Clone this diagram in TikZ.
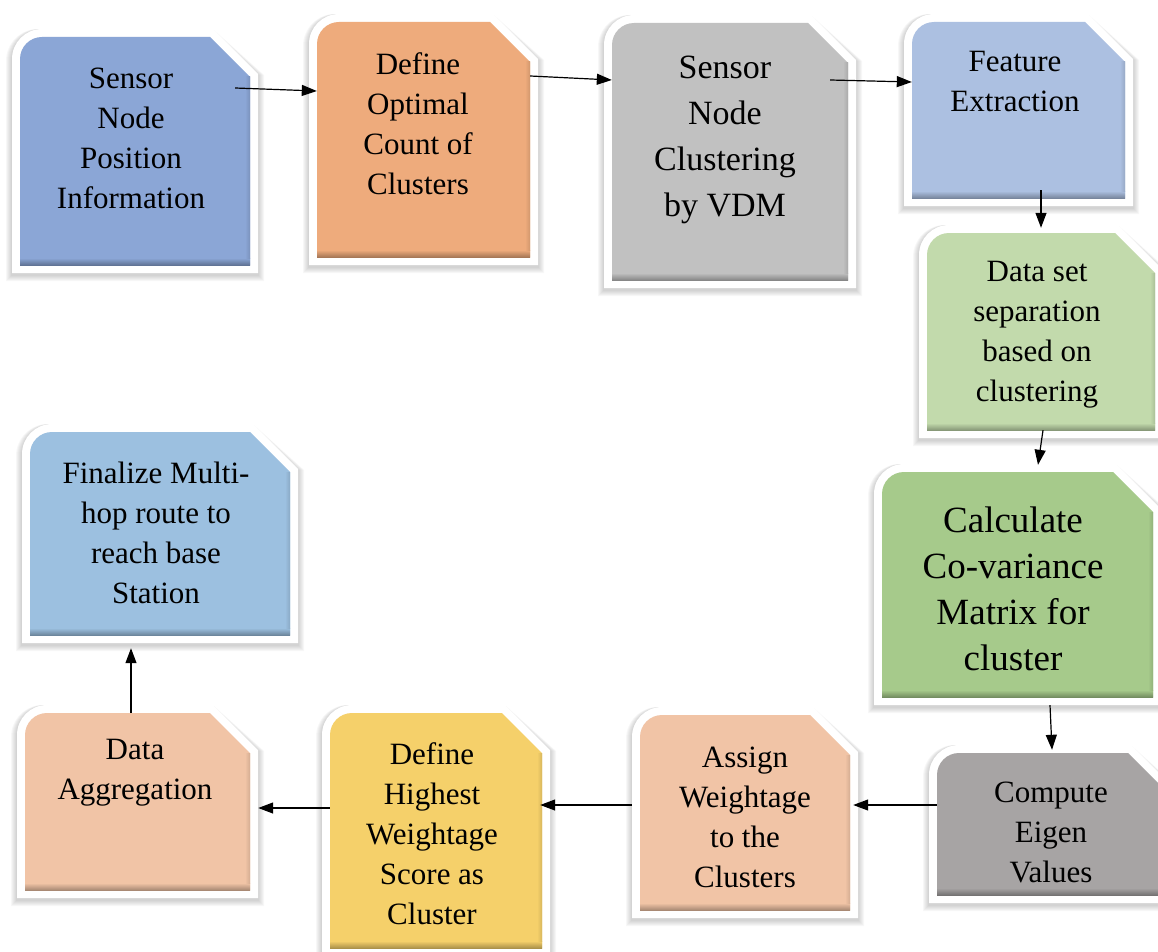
\documentclass[tikz,border=0pt]{standalone}
\usepackage{fontspec}
\setmainfont{Liberation Serif}
\usetikzlibrary{arrows.meta,fit}

% fill colours of the steps
\definecolor{posblue}{RGB}{139,166,214}
\definecolor{countorange}{RGB}{238,171,124}
\definecolor{vdmgrey}{RGB}{193,193,193}
\definecolor{featblue}{RGB}{172,192,225}
\definecolor{sepgreen}{RGB}{194,218,172}
\definecolor{covgreen}{RGB}{166,202,139}
\definecolor{eigengrey}{RGB}{167,164,164}
\definecolor{weightpeach}{RGB}{241,196,166}
\definecolor{scoreyellow}{RGB}{245,208,106}
\definecolor{routeblue}{RGB}{156,192,224}

\tikzset{
    steptext/.style={align=center, inner sep=0pt, font=\fontsize{31}{40}\selectfont},
    bigtext/.style={steptext, font=\fontsize{34}{46}\selectfont},
    hugetext/.style={steptext, font=\fontsize{37}{46}\selectfont},
    flow/.style={line width=1.2pt, -{Triangle[length=15pt,width=11pt]}}
}

% one step: name, colour, left, top, right, bottom (in pixels, y downwards)
\newcommand{\flowbox}[6]{%
    % soft shadow round the white rim
    \foreach \s in {1,...,6}
        \fill[black, opacity=0.03]
            (#3-8-\s,#6+10+\s) -- (#3-8-\s,#4+24) arc (180:270:32)
            -- (#5-36,#4-8-\s/2+4) -- (#5+8+\s,#4+38)
            -- (#5+8+\s,#6+10+\s) -- cycle;
    % white rim
    \fill[white] (#3-8,#6+8) -- (#3-8,#4+22) arc (180:270:30)
        -- (#5-37,#4-8) -- (#5+8,#4+37) -- (#5+8,#6+8) -- cycle;
    % coloured face
    \fill[#2] (#3,#6) -- (#3,#4+22) arc (180:270:22)
        -- (#5-40,#4) -- (#5,#4+40) -- (#5,#6) -- cycle;
    % bevel at bottom and right
    \shade[top color=#2, bottom color=#2!70!black] (#3,#6-7) rectangle (#5,#6);
    \shade[left color=#2, right color=#2!88!black] (#5-5,#4+40) rectangle (#5,#6-7);
    \node[fit={(#3,#4) (#5,#6)}, inner sep=0pt] (#1) {};
}

\begin{document}
\begin{tikzpicture}[x=1pt, y=-1pt]

    % page size of the reference
    \useasboundingbox (0,0) rectangle (1158,952);

    % the eleven steps
    \flowbox{pos}{posblue}{20}{37}{250}{265}
    \flowbox{count}{countorange}{317}{22}{530}{257}
    \flowbox{vdm}{vdmgrey}{612}{23}{848}{280}
    \flowbox{feat}{featblue}{912}{22}{1125}{198}
    \flowbox{sep}{sepgreen}{927}{233}{1155}{430}
    \flowbox{cov}{covgreen}{882}{472}{1153}{697}
    \flowbox{eigen}{eigengrey}{937}{753}{1168}{895}
    \flowbox{weight}{weightpeach}{640}{715}{850}{910}
    \flowbox{score}{scoreyellow}{330}{713}{542}{948}
    \flowbox{aggr}{weightpeach}{25}{713}{250}{890}
    \flowbox{route}{routeblue}{30}{432}{290}{635}

    % texts of the steps
    \node[steptext] (posT) at (131,138) {Sensor\\Node\\Position\\Information};
    \node[steptext] (countT) at (418,124) {Define\\Optimal\\Count of\\Clusters};
    \node[bigtext] (vdmT) at (725,140) {Sensor\\Node\\Clustering\\by VDM};
    \node[steptext] (featT) at (1015,82) {Feature\\Extraction};
    \node[steptext] (sepT) at (1037,335) {Data set\\separation\\based on\\clustering};
    \node[hugetext] (covT) at (1013,589) {Calculate\\Co-variance\\Matrix for\\cluster};
    \node[steptext] (eigenT) at (1051,832) {Compute\\Eigen\\Values};
    \node[steptext] (weightT) at (745,817) {Assign\\Weightage\\to the\\Clusters};
    \node[steptext] (scoreT) at (432,834) {Define\\Highest\\Weightage\\Score as\\Cluster};
    \node[steptext] (aggrT) at (135,773) {Data\\Aggregation};
    \node[steptext] (routeT) at (156,533) {Finalize Multi-\\hop route to\\reach base\\Station};

    % top row, left to right
    \draw[flow] ([xshift=-15pt]pos.east |- 0,88) -- (count.west |- 0,91);
    \draw[flow] (count.east |- 0,76) -- (vdm.west |- 0,80);
    \draw[flow] ([xshift=-18pt]vdm.east |- 0,80) -- (feat.west |- 0,82);

    % right column, downwards
    \draw[flow] ([yshift=8pt]feat.south -| 1041,0) -- ([yshift=5pt]sep.north -| 1041,0);
    \draw[flow] (sep.south -| 1043,0) -- ([yshift=7pt]cov.north -| 1038,0);
    \draw[flow] ([yshift=-8pt]cov.south -| 1050,0) -- ([yshift=3pt]eigen.north -| 1052,0);

    % bottom row, right to left
    \draw[flow] (eigen.west |- 0,805) -- ([xshift=3pt]weight.east |- 0,805);
    \draw[flow] ([xshift=-8pt]weight.west |- 0,805) -- ([xshift=-2pt]score.east |- 0,805);
    \draw[flow] (score.west |- 0,808) -- ([xshift=8pt]aggr.east |- 0,808);

    % up to the last step
    \draw[flow] (aggr.north -| 131,0) -- ([yshift=-13pt]route.south -| 131,0);

\end{tikzpicture}
\end{document}
